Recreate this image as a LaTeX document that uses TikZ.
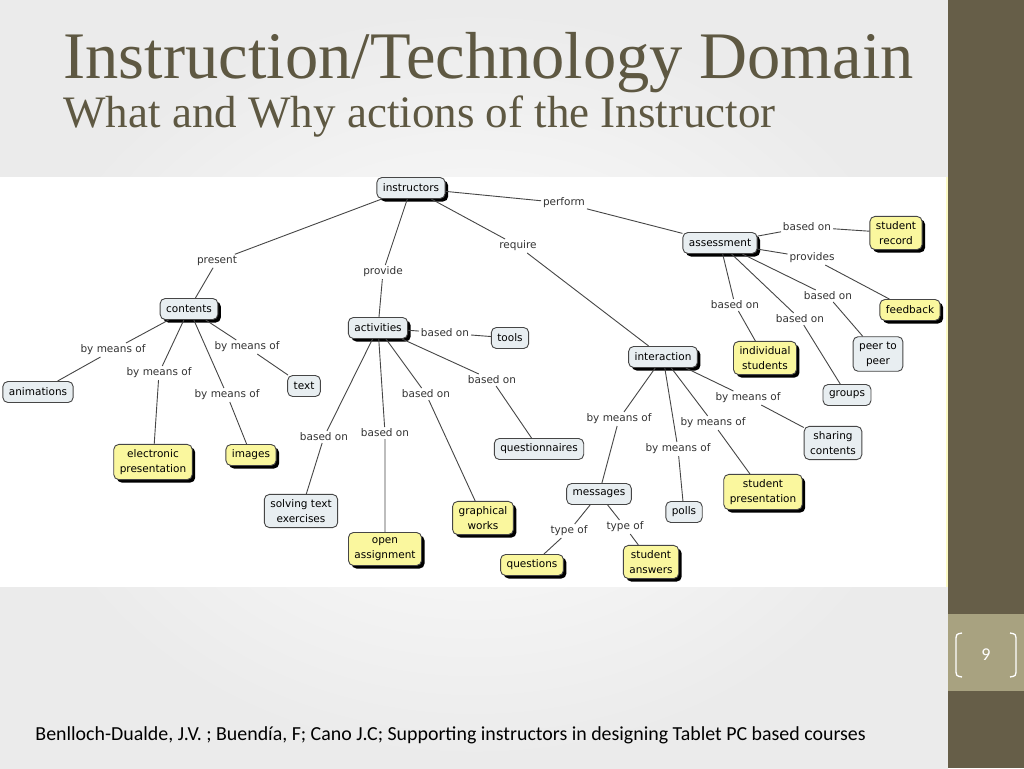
\documentclass[tikz,border=0pt]{standalone}
\usepackage{fontspec}
\setmainfont{Liberation Serif}
\newfontfamily\mapfont{DejaVu Sans}
\newfontfamily\footfont{Carlito}
\usetikzlibrary{shadows}
\definecolor{sidebar}{RGB}{102,94,72}
\definecolor{numbox}{RGB}{168,162,128}
\definecolor{titlecol}{RGB}{94,88,66}
\definecolor{cpale}{RGB}{232,238,241}
\definecolor{cyel}{RGB}{250,247,158}
\definecolor{cline}{RGB}{70,70,70}
\tikzset{concept/.style={rectangle, rounded corners=5pt, draw=cline, fill=cpale,
      font=\mapfont\fontsize{10.5}{15}\selectfont, align=center,
      inner xsep=6pt, inner ysep=5pt, minimum height=21pt}}
\tikzset{main/.style={concept, drop shadow={shadow xshift=3pt, shadow yshift=-3pt, fill=black, opacity=1}}}
\tikzset{yel/.style={main, fill=cyel}}
\tikzset{link/.style={font=\mapfont\fontsize{10.5}{12}\selectfont, text=black!80, inner sep=1.5pt}}

\begin{document}
\begin{tikzpicture}[x=1pt, y=-1pt, line width=0.9pt]
    \useasboundingbox (0,0) rectangle (1024,768);
    % slide
    \shade[inner color=white, outer color=black!8] (0,0) rectangle (948,768);
    \fill[sidebar] (948,0) rectangle (1024,768);
    \fill[numbox] (948,614) rectangle (1024,691);
    \draw[white, line width=1.3pt] (962,633) .. controls (956,634) .. (956,642) -- (956,668) .. controls (956,676) .. (962,677);
    \draw[white, line width=1.3pt] (1010,633) .. controls (1016,634) .. (1016,642) -- (1016,668) .. controls (1016,676) .. (1010,677);
    \node[text=white, font=\footfont\fontsize{18}{20}\selectfont] (num) at (986,655) {9};
    \node[anchor=base west, inner sep=0pt, text=titlecol, font=\fontsize{66.5}{70}\selectfont] (title) at (63,78) {Instruction/Technology Domain};
    \node[anchor=base west, inner sep=0pt, text=titlecol, font=\fontsize{45}{50}\selectfont] (subtitle) at (63,127) {What and Why actions of the Instructor};
    \node[anchor=base west, inner sep=0pt, font=\footfont\fontsize{19.9}{22}\selectfont] (cite) at (35,740) {Benlloch-Dualde, J.V. ; Buend\'{\i}a, F; Cano J.C; Supporting instructors in designing Tablet PC based courses};
    % concept map
    \fill[white] (0,177) rectangle (948,587);
    \draw[cyel!60, line width=1.5pt] (947,177) -- (947,587);
    \node[main] (instr) at (411,188) {instructors};
    \node[main] (contents) at (189,309) {contents};
    \node[main] (activ) at (378,328) {activities};
    \node[main] (inter) at (663,357) {interaction};
    \node[main] (assess) at (720,243) {assessment};
    \node[concept] (anim) at (38,392) {animations};
    \node[concept] (text) at (304,386) {text};
    \node[concept] (tools) at (510,338) {tools};
    \node[concept] (quest) at (539,449) {questionnaires};
    \node[concept] (solv) at (301,511) {solving text\\exercises};
    \node[concept] (mess) at (599,494) {messages};
    \node[concept] (polls) at (684,512) {polls};
    \node[concept] (share) at (833,443) {sharing\\contents};
    \node[concept] (peer) at (878,354) {peer to\\peer};
    \node[concept] (groups) at (847,395) {groups};
    \node[yel] (elec) at (153,462) {electronic\\presentation};
    \node[yel] (images) at (251,455) {images};
    \node[yel] (graph) at (483,518) {graphical\\works};
    \node[yel] (open) at (385,549) {open\\assignment};
    \node[yel] (questions) at (532,565) {questions};
    \node[yel] (answers) at (651,562) {student\\answers};
    \node[yel] (studpres) at (763,492) {student\\presentation};
    \node[yel] (indiv) at (765,358) {individual\\students};
    \node[yel] (record) at (896,233) {student\\record};
    \node[yel] (feed) at (910,310) {feedback};
    % linking phrases
    \node[link] (present) at (217,261) {present};
    \node[link] (provide) at (383,272) {provide};
    \node[link] (require) at (518,246) {require};
    \node[link] (perform) at (564,203) {perform};
    \node[link] (bmA) at (113,350) {by means of};
    \node[link] (bmB) at (159,373) {by means of};
    \node[link] (bmC) at (247,347) {by means of};
    \node[link] (bmD) at (227,395) {by means of};
    \node[link] (boT) at (445,333) {based on};
    \node[link] (boQ) at (492,380) {based on};
    \node[link] (boG) at (426,394) {based on};
    \node[link] (boS) at (324,437) {based on};
    \node[link] (boO) at (385,433) {based on};
    \node[link] (bmM) at (619,419) {by means of};
    \node[link] (bmP) at (678,449) {by means of};
    \node[link] (bmS) at (713,423) {by means of};
    \node[link] (bmH) at (748,398) {by means of};
    \node[link] (toQ) at (569,531) {type of};
    \node[link] (toA) at (625,527) {type of};
    \node[link] (boR) at (807,227) {based on};
    \node[link] (prov) at (812,258) {provides};
    \node[link] (boP) at (828,296) {based on};
    \node[link] (boGr) at (800,319) {based on};
    \node[link] (boI) at (735,305) {based on};
    % connectors
    \draw[cline] (instr) -- (present) -- (contents);
    \draw[cline] (instr) -- (provide) -- (activ);
    \draw[cline] (instr) -- (require) -- (inter);
    \draw[cline] (instr) -- (perform) -- (assess);
    \draw[cline] (contents) -- (bmA) -- (anim);
    \draw[cline] (contents) -- (bmB) -- (elec);
    \draw[cline] (contents) -- (bmC) -- (text);
    \draw[cline] (contents) -- (bmD) -- (images);
    \draw[cline] (activ) -- (boT) -- (tools);
    \draw[cline] (activ) -- (boQ) -- (quest);
    \draw[cline] (activ) -- (boG) -- (graph);
    \draw[cline] (activ) -- (boS) -- (solv);
    \draw[cline] (activ) -- (boO) -- (open);
    \draw[cline] (inter) -- (bmM) -- (mess);
    \draw[cline] (inter) -- (bmP) -- (polls);
    \draw[cline] (inter) -- (bmS) -- (studpres);
    \draw[cline] (inter) -- (bmH) -- (share);
    \draw[cline] (mess) -- (toQ) -- (questions);
    \draw[cline] (mess) -- (toA) -- (answers);
    \draw[cline] (assess) -- (boR) -- (record);
    \draw[cline] (assess) -- (prov) -- (feed);
    \draw[cline] (assess) -- (boP) -- (peer);
    \draw[cline] (assess) -- (boGr) -- (groups);
    \draw[cline] (assess) -- (boI) -- (indiv);
  \end{tikzpicture}
\end{document}
